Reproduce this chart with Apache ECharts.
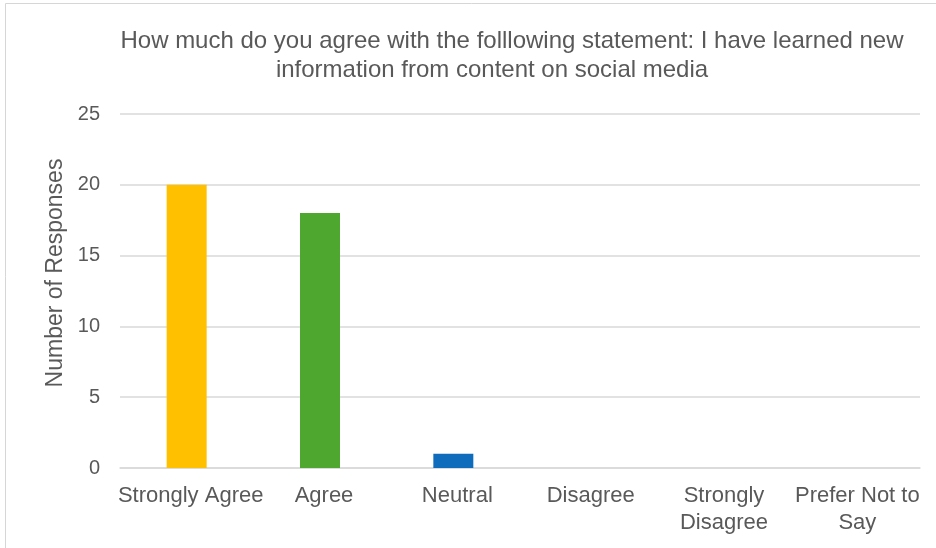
<!DOCTYPE html>
<html><head><meta charset="utf-8">
<script src="https://cdn.jsdelivr.net/npm/echarts@6/dist/echarts.min.js"></script>
<style>html,body{margin:0;padding:0;background:#fff}#c{width:936px;height:548px}</style>
</head><body><div id="c"></div>
<script>
const titleLines = ["How much do you agree with the folllowing statement: I have learned new", "information from content on social media"];
const categories = ["Strongly Agree", "Agree", "Neutral", "Disagree", "Strongly\nDisagree", "Prefer Not to\nSay"];
const responses = [20, 18, 1, 0, 0, 0];
const barColors = ["#FFC000", "#4EA72E", "#0F6CBD", "#E97132", "#A02B93", "#196B24"];
const yAxisName = "Number of Responses";

const font = "'Liberation Sans', Arial, Helvetica, sans-serif";
const titleStyle = {fontFamily: font, fontSize: 24, fontWeight: 'normal', color: '#595959', lineHeight: 28};
const chart = echarts.init(document.getElementById('c'), null, {renderer: 'canvas'});
chart.setOption({
  animation: false,
  backgroundColor: '#fff',
  graphic: [{
    type: 'rect', shape: {x: 5.5, y: 3.5, width: 960, height: 600},
    style: {fill: 'none', stroke: '#d6d6d6', lineWidth: 1}, silent: true, z: -1
  }],
  title: [
    {text: titleLines[0], left: 512, top: 27, textAlign: 'center', padding: 0, textStyle: titleStyle},
    {text: titleLines[1], left: 492, top: 56, textAlign: 'center', padding: 0, textStyle: titleStyle}
  ],
  grid: {left: 120, right: 16, top: 114, bottom: 80, containLabel: false},
  xAxis: {
    type: 'category', data: categories,
    axisLine: {show: true, lineStyle: {color: '#d9d9d9', width: 1.5}},
    axisTick: {show: false},
    axisLabel: {fontFamily: font, fontSize: 22, color: '#595959', margin: 14, lineHeight: 27, interval: 0, padding: [0, 0, 0, 8]}
  },
  yAxis: {
    type: 'value', min: 0, max: 25, interval: 5,
    name: yAxisName, nameLocation: 'middle', nameGap: 52, nameRotate: 90,
    nameTextStyle: {fontFamily: font, fontSize: 23, color: '#595959', padding: [0, 0, 0, 36]},
    axisLine: {show: false}, axisTick: {show: false},
    axisLabel: {fontFamily: font, fontSize: 20, color: '#595959', margin: 20},
    splitLine: {lineStyle: {color: '#d9d9d9', width: 1.5}}
  },
  series: [{
    type: 'bar', data: responses.map((v, i) => ({value: v, itemStyle: {color: barColors[i]}})),
    barWidth: 40
  }]
});
</script></body></html>
